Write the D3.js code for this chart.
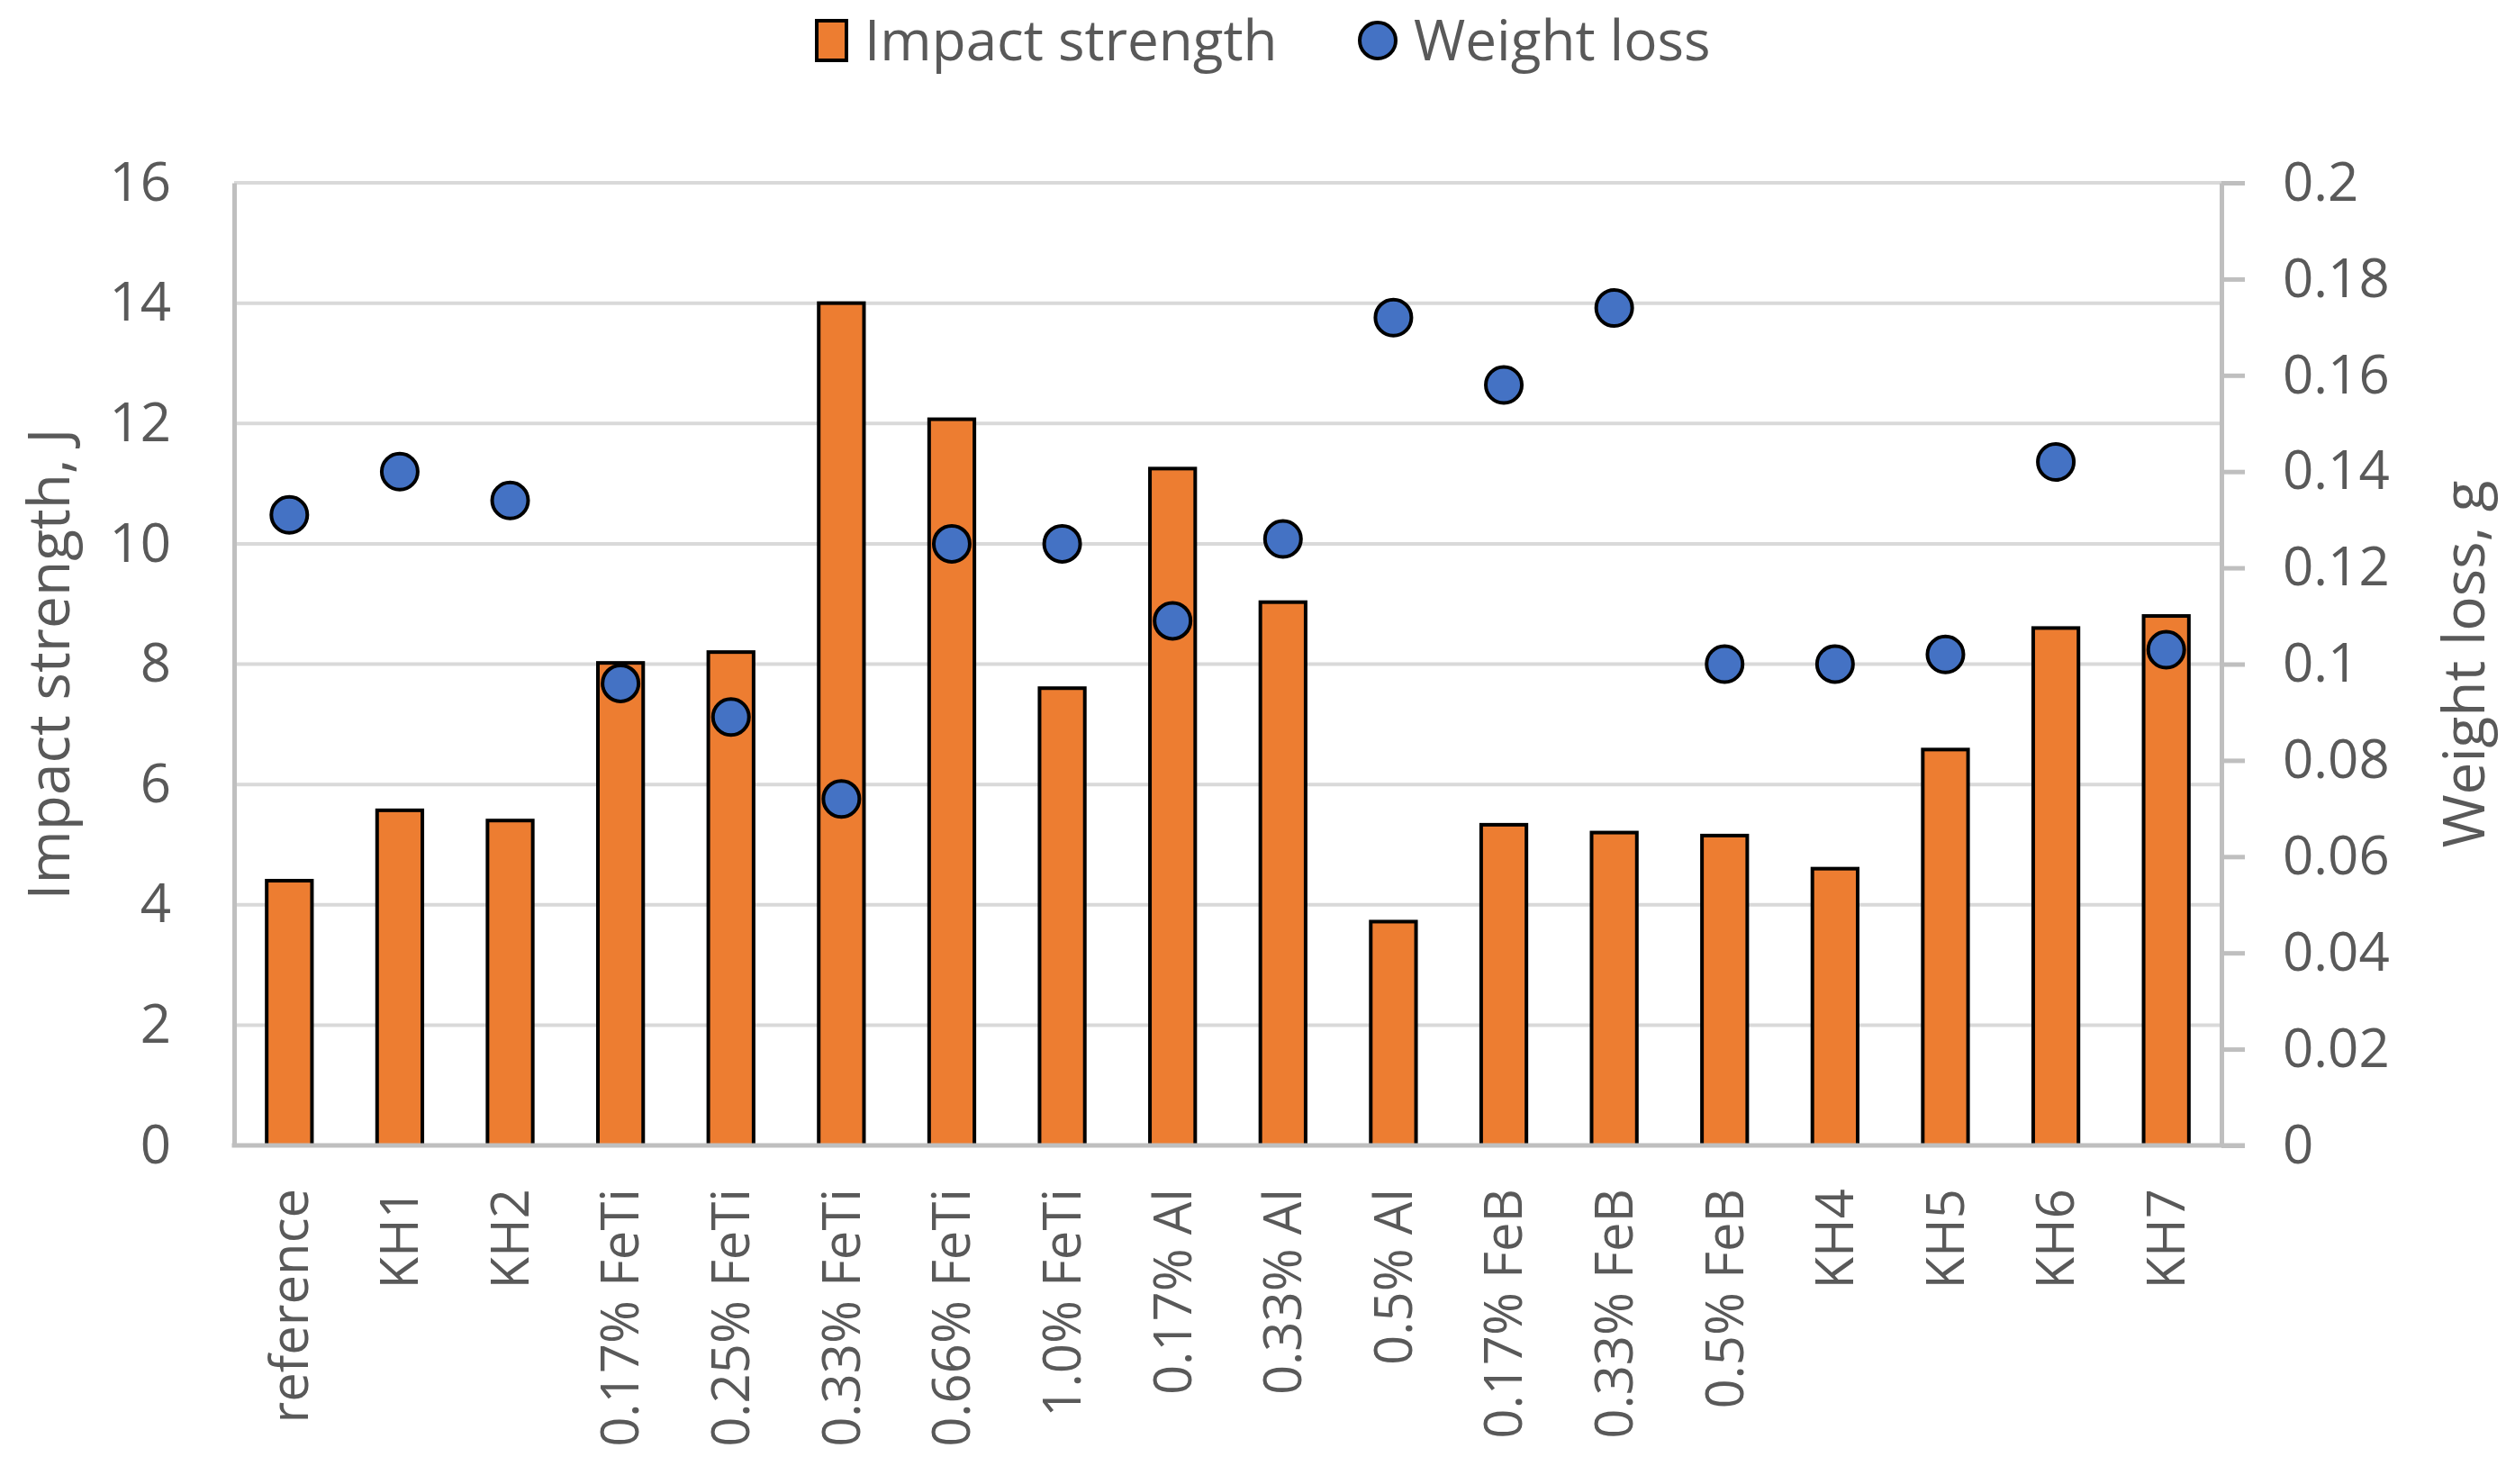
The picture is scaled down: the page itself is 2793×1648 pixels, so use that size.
<!DOCTYPE html>
<html>
<head>
<meta charset="utf-8">
<script src="https://cdn.jsdelivr.net/npm/d3@7"></script>
<style>
  body { margin: 0; background: #fff; }
  text { font-family: "Open Sans", "Noto Sans", sans-serif; fill: #595959; }
</style>
</head>
<body>
<div id="chart"></div>
<script>
const categories = ["reference", "KH1", "KH2", "0.17% FeTi", "0.25% FeTi", "0.33% FeTi",
    "0.66% FeTi", "1.0% FeTi", "0.17% Al", "0.33% Al", "0.5% Al", "0.17% FeB",
    "0.33% FeB", "0.5% FeB", "KH4", "KH5", "KH6", "KH7"];
const impactStrength = [4.4, 5.57, 5.4, 8.02, 8.2, 14.0, 12.07, 7.6, 11.25, 9.03,
    3.72, 5.33, 5.2, 5.15, 4.6, 6.58, 8.6, 8.8];
const weightLoss = [0.131, 0.14, 0.134, 0.096, 0.089, 0.072, 0.125, 0.125, 0.109, 0.126,
    0.172, 0.158, 0.174, 0.1, 0.1, 0.102, 0.142, 0.103];
const impactTicks = [0, 2, 4, 6, 8, 10, 12, 14, 16];
const weightTicks = [0, 0.02, 0.04, 0.06, 0.08, 0.1, 0.12, 0.14, 0.16, 0.18, 0.2];

const W = 2793, H = 1648;
const plotLeft = 260, plotRight = 2467, plotTop = 203, plotBottom = 1272;
const orange = "#ED7D31", blue = "#4472C4";

const svg = d3.select("#chart")
    .append("svg")
    .attr("width", W)
    .attr("height", H);

const x = d3.scaleBand()
    .domain(categories)
    .range([plotLeft, plotRight])
    .paddingInner(0.59)
    .paddingOuter(0.295);

const y = d3.scaleLinear().domain([0, 16]).range([plotBottom, plotTop]);
const y2 = d3.scaleLinear().domain([0, 0.2]).range([plotBottom, plotTop]);

// gridlines
svg.append("g")
    .selectAll("line")
    .data(impactTicks.filter(d => d > 0))
    .enter()
    .append("line")
    .attr("x1", plotLeft)
    .attr("x2", plotRight)
    .attr("y1", d => y(d))
    .attr("y2", d => y(d))
    .attr("stroke", "#d9d9d9")
    .attr("stroke-width", 4);

// bars
svg.append("g")
    .selectAll("rect")
    .data(categories)
    .enter()
    .append("rect")
    .attr("x", d => x(d))
    .attr("y", (d, i) => y(impactStrength[i]))
    .attr("width", x.bandwidth())
    .attr("height", (d, i) => plotBottom - y(impactStrength[i]))
    .attr("fill", orange)
    .attr("stroke", "#000")
    .attr("stroke-width", 4);

// left axis
const yAxis = svg.append("g")
    .attr("transform", `translate(${plotLeft},0)`)
    .call(d3.axisLeft(y).tickValues(impactTicks).tickSize(0).tickPadding(70));
yAxis.select(".domain").attr("stroke", "#bfbfbf").attr("stroke-width", 5);
yAxis.selectAll("text").style("font-size", "60px").attr("fill", "#595959");

// right axis
const y2Axis = svg.append("g")
    .attr("transform", `translate(${plotRight},0)`)
    .call(d3.axisRight(y2).tickValues(weightTicks).tickSize(26).tickSizeOuter(0)
        .tickPadding(42).tickFormat(d => String(d)));
y2Axis.select(".domain").attr("stroke", "#bfbfbf").attr("stroke-width", 5);
y2Axis.selectAll("line").attr("stroke", "#bfbfbf").attr("stroke-width", 5);
y2Axis.selectAll("text").style("font-size", "60px").attr("fill", "#595959");

// bottom axis
const xAxis = svg.append("g")
    .attr("transform", `translate(0,${plotBottom})`)
    .call(d3.axisBottom(x).tickSize(0).tickSizeOuter(0));
xAxis.select(".domain").remove();
xAxis.append("line")
    .attr("x1", plotLeft - 2.5)
    .attr("x2", plotRight + 26)
    .attr("stroke", "#bfbfbf")
    .attr("stroke-width", 5);
xAxis.selectAll(".tick text")
    .style("font-size", "58px")
    .attr("fill", "#595959")
    .attr("transform", "rotate(-90)")
    .attr("text-anchor", "end")
    .attr("x", -48)
    .attr("y", 0)
    .attr("dy", "0.35em");

// weight loss markers
svg.append("g")
    .selectAll("circle")
    .data(categories)
    .enter()
    .append("circle")
    .attr("cx", d => x(d) + x.bandwidth() / 2)
    .attr("cy", (d, i) => y2(weightLoss[i]))
    .attr("r", 20)
    .attr("fill", blue)
    .attr("stroke", "#000")
    .attr("stroke-width", 4);

// axis titles
svg.append("text")
    .attr("transform", `translate(55,${(plotTop + plotBottom) / 2}) rotate(-90)`)
    .attr("text-anchor", "middle")
    .attr("dy", "0.35em")
    .style("font-size", "64px")
    .text("Impact strength, J");

svg.append("text")
    .attr("transform", `translate(2737,${(plotTop + plotBottom) / 2}) rotate(-90)`)
    .attr("text-anchor", "middle")
    .attr("dy", "0.35em")
    .style("font-size", "64px")
    .text("Weight loss, g");

// legend
const legend = svg.append("g");
legend.append("rect")
    .attr("x", 907)
    .attr("y", 23)
    .attr("width", 33)
    .attr("height", 44)
    .attr("fill", orange)
    .attr("stroke", "#000")
    .attr("stroke-width", 4);
legend.append("text")
    .attr("x", 960)
    .attr("y", 45)
    .attr("dy", "0.35em")
    .style("font-size", "62px")
    .text("Impact strength");
legend.append("circle")
    .attr("cx", 1530)
    .attr("cy", 45)
    .attr("r", 20)
    .attr("fill", blue)
    .attr("stroke", "#000")
    .attr("stroke-width", 4);
legend.append("text")
    .attr("x", 1570)
    .attr("y", 45)
    .attr("dy", "0.35em")
    .style("font-size", "62px")
    .text("Weight loss");
</script>
</body>
</html>
